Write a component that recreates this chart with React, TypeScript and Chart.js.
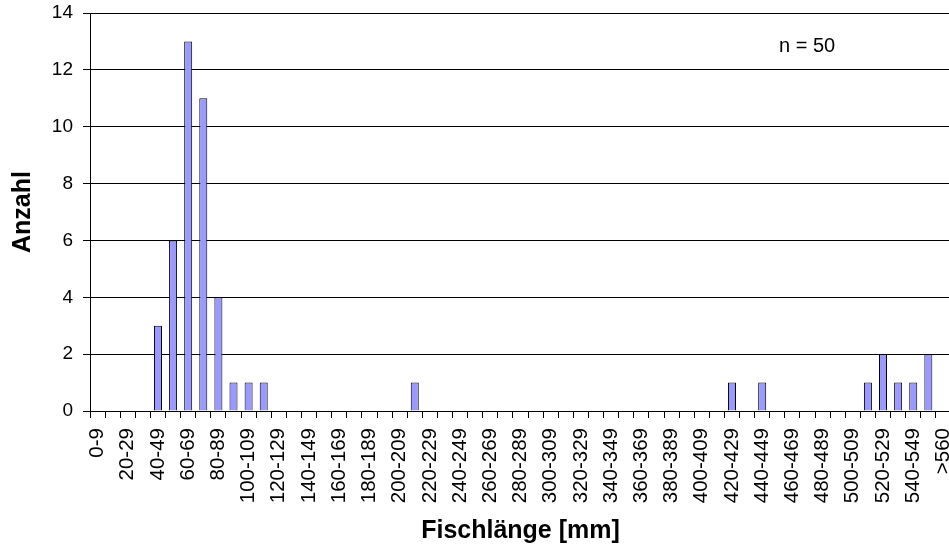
import React, { useEffect, useRef } from 'react';
import { Chart, registerables } from 'chart.js';

Chart.register(...registerables);

const categories = [
  '0-9', '10-19', '20-29', '30-39', '40-49', '50-59', '60-69', '70-79', '80-89', '90-99',
  '100-109', '110-119', '120-129', '130-139', '140-149', '150-159', '160-169', '170-179', '180-189', '190-199',
  '200-209', '210-219', '220-229', '230-239', '240-249', '250-259', '260-269', '270-279', '280-289', '290-299',
  '300-309', '310-319', '320-329', '330-339', '340-349', '350-359', '360-369', '370-379', '380-389', '390-399',
  '400-409', '410-419', '420-429', '430-439', '440-449', '450-459', '460-469', '470-479', '480-489', '490-499',
  '500-509', '510-519', '520-529', '530-539', '540-549', '550-559', '>560',
];

const counts = [
  0, 0, 0, 0, 3, 6, 13, 11, 4, 1,
  1, 1, 0, 0, 0, 0, 0, 0, 0, 0,
  0, 1, 0, 0, 0, 0, 0, 0, 0, 0,
  0, 0, 0, 0, 0, 0, 0, 0, 0, 0,
  0, 0, 1, 0, 1, 0, 0, 0, 0, 0,
  0, 1, 2, 1, 1, 2, 0,
];

const yMin = 0;
const yMax = 14;
const yStep = 2;

const xTitle = 'Fischlänge [mm]';
const yTitle = 'Anzahl';
const noteText = 'n = 50';

const FONT = "'Liberation Sans', Arial, sans-serif";

export default function App() {
  const canvasRef = useRef<HTMLCanvasElement | null>(null);

  useEffect(() => {
    const canvas = canvasRef.current;
    if (!canvas) return;

    const notePlugin = {
      id: 'notePlugin',
      afterDraw(chart: any) {
        const ctx = chart.ctx;
        ctx.save();
        ctx.fillStyle = '#000';
        ctx.font = `20px ${FONT}`;
        ctx.textAlign = 'left';
        ctx.textBaseline = 'alphabetic';
        ctx.fillText(noteText, 779, 52);
        ctx.restore();
      },
    };

    const chart = new Chart(canvas, {
      type: 'bar',
      data: {
        labels: categories,
        datasets: [
          {
            data: counts,
            backgroundColor: '#9999FF',
            borderColor: '#000000',
            borderWidth: 1,
            barPercentage: 0.53,
            categoryPercentage: 1,
          },
        ],
      },
      options: {
        responsive: false,
        animation: false,
        devicePixelRatio: 1,
        layout: { padding: { left: 0, right: 25, top: 13, bottom: 0 } },
        plugins: {
          legend: { display: false },
          tooltip: { enabled: false },
        },
        scales: {
          x: {
            offset: true,
            grid: {
              display: true,
              drawOnChartArea: false,
              drawTicks: true,
              tickLength: 7,
              color: '#000',
              offset: true,
            },
            border: { display: true, color: '#000' },
            ticks: {
              autoSkip: false,
              maxRotation: 90,
              minRotation: 90,
              padding: 10,
              color: '#000',
              font: { family: FONT, size: 20.5 },
              callback: (_v: any, index: number) => (index % 2 === 0 ? categories[index] : ''),
            },
            title: {
              display: true,
              text: xTitle,
              color: '#000',
              font: { family: FONT, size: 25, weight: 'bold', lineHeight: 1.2 },
              padding: { top: 0, bottom: 1 },
            },
            afterFit: (scale: any) => {
              scale.height = 136;
              scale.paddingLeft = 0;
              scale.paddingRight = 0;
            },
          },
          y: {
            min: yMin,
            max: yMax,
            grid: {
              display: true,
              drawOnChartArea: true,
              drawTicks: true,
              tickLength: 7,
              color: '#000',
            },
            border: { display: true, color: '#000' },
            ticks: {
              stepSize: yStep,
              padding: 10,
              color: '#000',
              font: { family: FONT, size: 19 },
            },
            title: {
              display: true,
              text: yTitle,
              color: '#000',
              font: { family: FONT, size: 25, weight: 'bold', lineHeight: 1.2 },
              padding: { top: 8, bottom: 0 },
            },
            afterFit: (scale: any) => {
              scale.width = 90;
              scale.paddingTop = 0;
              scale.paddingBottom = 0;
            },
          },
        },
      },
      plugins: [notePlugin],
    });

    return () => {
      chart.destroy();
    };
  }, []);

  return (
    <div
      style={{
        position: 'fixed',
        left: 0,
        top: 0,
        width: 949,
        height: 547,
        overflow: 'hidden',
        background: '#fff',
      }}
    >
      <canvas ref={canvasRef} width={976} height={547} style={{ width: 976, height: 547, display: 'block' }} />
    </div>
  );
}
